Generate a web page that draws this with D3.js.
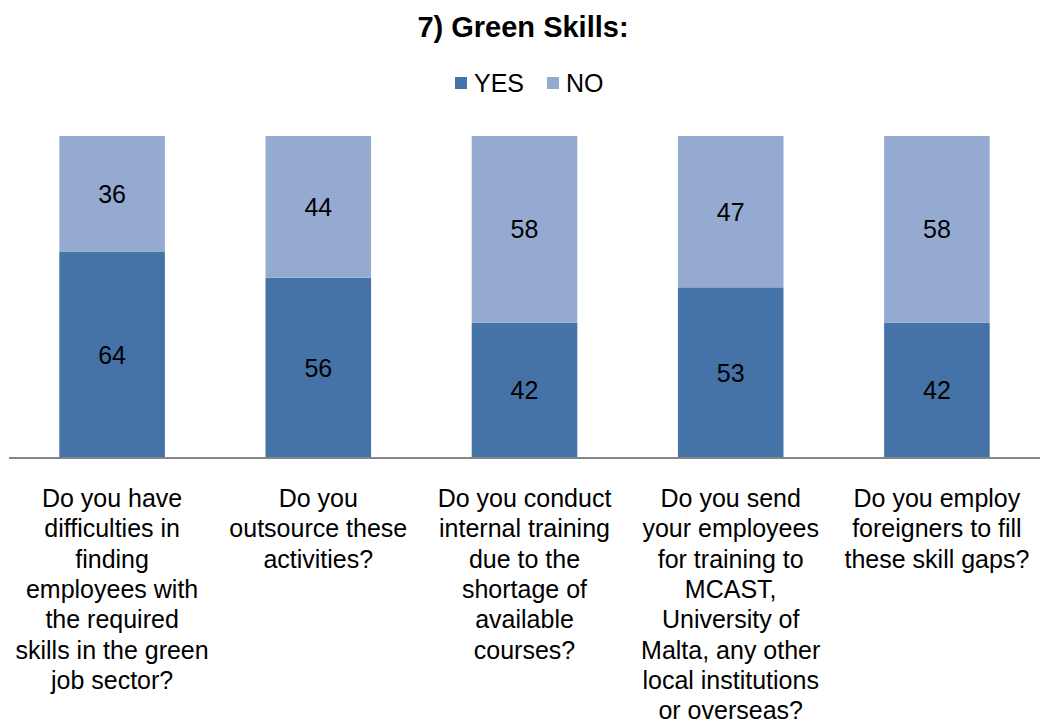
<!DOCTYPE html>
<html>
<head>
<meta charset="utf-8">
<script src="https://cdn.jsdelivr.net/npm/d3@7"></script>
<style>
  html, body { margin: 0; padding: 0; background: #fff; }
  svg { display: block; font-family: "Liberation Sans", Arial, sans-serif; }
</style>
</head>
<body>
<svg id="chart" width="1045" height="725"></svg>
<script>
// Survey questions (one line per entry, as wrapped under each bar)
const categories = [
  ["Do you have", "difficulties in", "finding", "employees with", "the required", "skills in the green", "job sector?"],
  ["Do you", "outsource these", "activities?"],
  ["Do you conduct", "internal training", "due to the", "shortage of", "available", "courses?"],
  ["Do you send", "your employees", "for training to", "MCAST,", "University of", "Malta, any other", "local institutions", "or overseas?"],
  ["Do you employ", "foreigners to fill", "these skill gaps?"]
];
const yesValues = [64, 56, 42, 53, 42];
const noValues  = [36, 44, 58, 47, 58];
const seriesNames = ["YES", "NO"];
const seriesColors = ["#4673A7", "#94AAD1"];

const svg = d3.select("#chart");
const plot = { left: 9, right: 1040, top: 136, bottom: 458 };

const x = d3.scaleBand()
  .domain(d3.range(categories.length))
  .range([plot.left, plot.right])
  .paddingInner(0.488)
  .paddingOuter(0.244);

const y = d3.scaleLinear().domain([0, 100]).range([plot.bottom, plot.top]);

const rows = categories.map((c, i) => ({ i, YES: yesValues[i], NO: noValues[i] }));
const stacked = d3.stack().keys(seriesNames)(rows);

// Title
svg.append("text")
  .attr("x", 523).attr("y", 37)
  .attr("text-anchor", "middle")
  .attr("font-size", 29).attr("font-weight", "bold")
  .text("7) Green Skills:");

// Legend
const legend = svg.append("g");
const legendItems = [{ x: 455 }, { x: 547 }];
seriesNames.forEach((name, k) => {
  const g = legend.append("g").attr("transform", `translate(${legendItems[k].x},0)`);
  g.append("rect").attr("x", 0).attr("y", 77).attr("width", 12).attr("height", 12)
    .attr("fill", seriesColors[k]);
  g.append("text").attr("x", 19).attr("y", 92).attr("font-size", 25).attr("fill", "#000")
    .text(name);
});

// Stacked bars
const layers = svg.append("g").selectAll("g")
  .data(stacked).join("g")
  .attr("fill", (d, k) => seriesColors[k]);

layers.selectAll("rect")
  .data(d => d).join("rect")
  .attr("x", (d, i) => x(i))
  .attr("width", x.bandwidth())
  .attr("y", d => y(d[1]))
  .attr("height", d => y(d[0]) - y(d[1]));

// Value labels centred in each segment
layers.selectAll("text.value")
  .data((d) => d.map(s => ({ s, key: d.key })))
  .join("text")
  .attr("class", "value")
  .attr("x", (d, i) => x(i) + x.bandwidth() / 2)
  .attr("y", d => (y(d.s[0]) + y(d.s[1])) / 2 + 9)
  .attr("text-anchor", "middle")
  .attr("font-size", 25)
  .attr("fill", "#000")
  .text(d => d.s.data[d.key]);

// Category axis
const axis = svg.append("g").attr("transform", `translate(0,${plot.bottom})`)
  .call(d3.axisBottom(x).tickSize(0).tickFormat(""));
axis.select(".domain").attr("stroke", "#868686").attr("stroke-width", 2)
  .attr("d", `M${plot.left},0H${plot.right}`);

const labels = svg.append("g");
categories.forEach((lines, i) => {
  const t = labels.append("text")
    .attr("text-anchor", "middle")
    .attr("font-size", 25)
    .attr("fill", "#000");
  lines.forEach((line, j) => {
    t.append("tspan")
      .attr("x", x(i) + x.bandwidth() / 2)
      .attr("y", 507 + j * 30.3)
      .text(line);
  });
});
</script>
</body>
</html>
